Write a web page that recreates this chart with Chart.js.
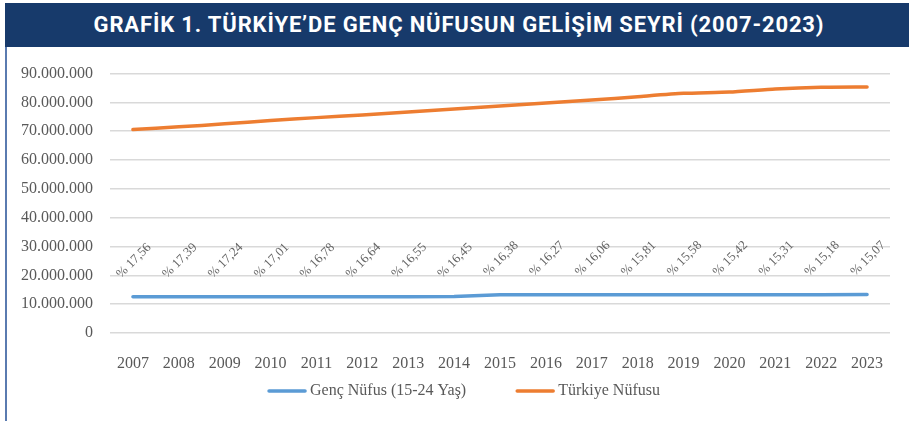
<!DOCTYPE html>
<html>
<head>
<meta charset="utf-8">
<script src="https://cdn.jsdelivr.net/npm/chart.js@4.4.1/dist/chart.umd.min.js"></script>
<style>
  html, body { margin: 0; padding: 0; background: #ffffff; }
  body { width: 909px; height: 421px; position: relative; overflow: hidden; }
  #hdr { position: absolute; left: 5px; top: 3px; width: 904px; height: 44px; background: #173a6b;
         color: #ffffff; font-family: "Roboto", sans-serif; font-weight: bold;
         font-size: 22px; line-height: 44px; text-align: center; letter-spacing: 0.85px; }
  #hdr span { display: inline-block; transform: translateX(2px); }
  #lb { position: absolute; left: 5px; top: 47px; width: 2px; height: 374px; background: #5a7bb0; }
  #wrap { position: absolute; left: 7px; top: 47px; width: 902px; height: 374px; }
</style>
</head>
<body>
<div id="hdr"><span>GRAFİK 1. TÜRKİYE’DE GENÇ NÜFUSUN GELİŞİM SEYRİ (2007-2023)</span></div>
<div id="lb"></div>
<div id="wrap"><canvas id="c" width="902" height="374"></canvas></div>
<script>
const years = ["2007","2008","2009","2010","2011","2012","2013","2014","2015","2016","2017","2018","2019","2020","2021","2022","2023"];
const turkiyeNufusu = [70586256,71517100,72561312,73722988,74724269,75627384,76667864,77695904,78741053,79814871,80810525,82003882,83154997,83614362,84680273,85279553,85372377];
const gencNufus = [12580000,12590000,12600000,12600000,12600000,12610000,12620000,12630000,13250000,13280000,13290000,13290000,13300000,13300000,13310000,13310000,13320000];
const gencOran = ["17,56","17,39","17,24","17,01","16,78","16,64","16,55","16,45","16,38","16,27","16,06","15,81","15,58","15,42","15,31","15,18","15,07"];
const seriesNames = ["Genç Nüfus (15-24 Yaş)", "Türkiye Nüfusu"];

const serif = "'Liberation Serif', 'DejaVu Serif', serif";
const txt = "#595959";

function fmt(v){ return String(Math.round(v)).replace(/\B(?=(\d{3})+(?!\d))/g, "."); }

const labelPlugin = {
  id: "pctLabels",
  afterDatasetsDraw(chart) {
    const meta = chart.getDatasetMeta(0);
    const ctx = chart.ctx;
    ctx.save();
    ctx.font = "13px " + serif;
    ctx.fillStyle = "#666666";
    ctx.textAlign = "center";
    ctx.textBaseline = "middle";
    meta.data.forEach((pt, i) => {
      ctx.save();
      ctx.translate(pt.x + 1, pt.y - 36);
      ctx.rotate(-Math.PI / 4);
      ctx.fillText("% " + gencOran[i], 0, 0);
      ctx.restore();
    });
    ctx.restore();
  }
};

const legendPlugin = {
  id: "lineLegend",
  afterDraw(chart) {
    const ctx = chart.ctx;
    ctx.save();
    ctx.font = "16px " + serif;
    const lineW = 38, gapText = 4, gapItem = 50;
    const items = chart.data.datasets.map(d => ({ label: d.label, color: d.borderColor, w: ctx.measureText(d.label).width }));
    let total = 0;
    items.forEach((it, i) => { total += lineW + gapText + it.w + (i ? gapItem : 0); });
    let x = chart.width / 2 + 6 - total / 2;
    const y = 344;
    items.forEach((it, i) => {
      if (i) x += gapItem;
      ctx.strokeStyle = it.color;
      ctx.lineWidth = 3.5;
      ctx.lineCap = "round";
      ctx.beginPath(); ctx.moveTo(x + 1, y); ctx.lineTo(x + lineW - 1, y); ctx.stroke();
      x += lineW + gapText;
      ctx.fillStyle = txt;
      ctx.textBaseline = "middle";
      ctx.textAlign = "left";
      ctx.fillText(it.label, x, y);
      x += it.w;
    });
    ctx.restore();
  }
};

new Chart(document.getElementById("c"), {
  type: "line",
  data: {
    labels: years,
    datasets: [
      { label: seriesNames[0], data: gencNufus, borderColor: "#5b9bd5", backgroundColor: "#5b9bd5",
        borderWidth: 3.5, pointRadius: 0, tension: 0, borderCapStyle: "round", borderJoinStyle: "round" },
      { label: seriesNames[1], data: turkiyeNufusu, borderColor: "#ed7d31", backgroundColor: "#ed7d31",
        borderWidth: 3.5, pointRadius: 0, tension: 0.2, borderCapStyle: "round", borderJoinStyle: "round" }
    ]
  },
  options: {
    responsive: false,
    animation: false,
    layout: { padding: { top: 14, right: 19, bottom: 50, left: 0 } },
    plugins: {
      legend: { display: false },
      tooltip: { enabled: false }
    },
    scales: {
      x: {
        offset: true,
        grid: { display: false },
        border: { display: false },
        ticks: { font: { family: serif, size: 16 }, color: txt, maxRotation: 0, padding: 13 },
        afterFit(s) { s.height = 38; }
      },
      y: {
        min: 0, max: 90000000,
        border: { display: false },
        grid: { color: "#d9d9d9", lineWidth: 1.5, drawTicks: false },
        ticks: { stepSize: 10000000, font: { family: serif, size: 16 }, color: txt, padding: 17,
                 callback: v => fmt(v) },
        afterFit(s) { s.width = 103; }
      }
    }
  },
  plugins: [labelPlugin, legendPlugin]
});
</script>
</body>
</html>
